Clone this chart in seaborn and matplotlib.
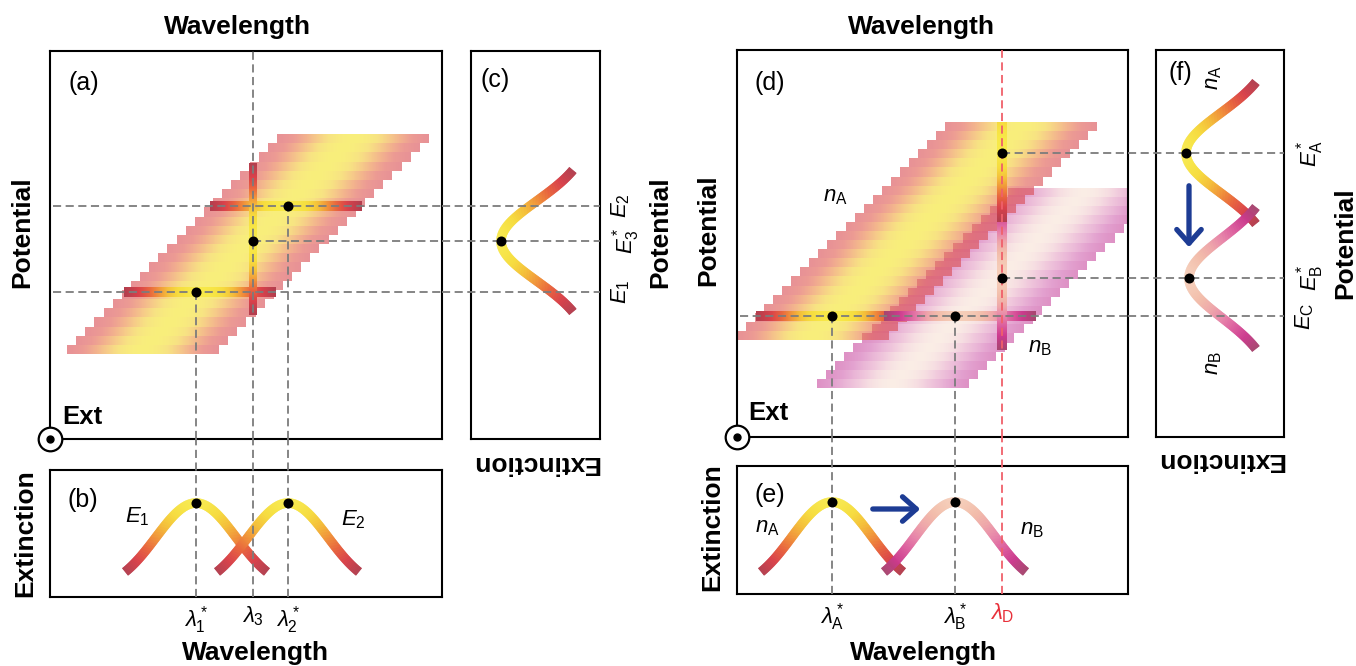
import numpy as np
import matplotlib
matplotlib.use('Agg')
import matplotlib.pyplot as plt
import seaborn as sns
from matplotlib.collections import LineCollection
from matplotlib.patches import FancyArrowPatch

sns.set_theme(style='white')
plt.rcParams['font.family'] = ['Liberation Sans', 'DejaVu Sans']
plt.rcParams['mathtext.fontset'] = 'custom'
plt.rcParams['mathtext.rm'] = 'Liberation Sans'
plt.rcParams['mathtext.it'] = 'Liberation Sans:italic'
plt.rcParams['mathtext.bf'] = 'Liberation Sans:bold'
plt.rcParams['text.color'] = 'black'
plt.rcParams['axes.labelcolor'] = 'black'
plt.rcParams['xtick.color'] = 'black'
plt.rcParams['ytick.color'] = 'black'

# -----------------------------
# Values (arbitrary units)
# -----------------------------

# (a)-(c): one species
band_a_pot = [85, 305]        # potential of lower / upper band edge
band_a_peak = [93, 303]       # peak wavelength of lowest / highest row
band_a_rows = 24

E_a = [147, 198, 233]         # E1, E3*, E2
E_a_labels = [r'$E_1$', r'$E_3^*$', r'$E_2$']
lam_a = [146, 203, 238]       # lambda1*, lambda3, lambda2*
lam_a_labels = [r'$\lambda_1^*$', r'$\lambda_3$', r'$\lambda_2^*$']

spec_b_ext = [94, 25]         # (b) extinction at peak / at curve ends
cut_c_ext = [99, 27]          # (c) extinction at vertex / at curve ends

# (d)-(f): two species A and B
band_A_pot = [97, 315]
band_A_peak = [76, 284]
band_A_rows = 24
band_B_pot = [49, 249]
band_B_peak = [156, 347]
band_B_rows = 22

E_d = [121, 159, 284]         # E_C, E_B*, E_A*
E_d_labels = [r'$E_\mathrm{C}$', r'$E_\mathrm{B}^*$', r'$E_\mathrm{A}^*$']
lam_d = [95, 218, 265]        # lambdaA*, lambdaB*, lambdaD
lam_d_labels = [r'$\lambda_\mathrm{A}^*$', r'$\lambda_\mathrm{B}^*$', r'$\lambda_\mathrm{D}$']

spec_e_ext = [92, 22]
cut_f_ext_A = [98, 28]
cut_f_ext_B = [95, 28]

arrow_e = [133, 186]          # wavelength shift arrow, at extinction 85
arrow_f = [254, 187]          # potential shift arrow, at extinction 95

BAND_HALF = 76
CURVE_HALF = 71
SIG = 40

warm = sns.blend_palette(['#B23E4E', '#D9414A', '#E8643E', '#F0923A',
                          '#F4BE3A', '#F6DC3E', '#F7E948'], as_cmap=True)
pink = sns.blend_palette(['#A6466E', '#CC3A8E', '#DC5E9E', '#E784AA',
                          '#EEA6AA', '#F2BCAA', '#F5CDB8'], as_cmap=True)
# versions used for the translucent bands
warm_band = sns.blend_palette(['#D84850', '#E0584C', '#EA7E42', '#F0A83A',
                               '#F3D030', '#F4E424'], as_cmap=True)
pink_band = sns.blend_palette(['#C8489E', '#D061AF', '#DC86BC', '#E6A3C5',
                               '#F0C6CE', '#F7E1D5'], as_cmap=True)

DASH = dict(color='#7c7c7c', lw=1.3, dashes=(4.5, 2.5), zorder=4)
RED_DASH = dict(color='#f0606a', lw=1.3, dashes=(4.5, 2.5), zorder=4)
BOLD = dict(fontsize=19, fontweight='bold', va='center', visible=True)
MATH = 16


def profile(d, half):
    ge = np.exp(-half ** 2 / (2 * SIG ** 2))
    return np.clip((np.exp(-d ** 2 / (2 * SIG ** 2)) - ge) / (1 - ge), 0, 1)


def band(ax, pot, peak, nrows, cmap, alpha, xmax):
    edges = np.linspace(pot[0], pot[1], nrows + 1)
    mid = (edges[:-1] + edges[1:]) / 2
    slope = (peak[1] - peak[0]) / (mid[-1] - mid[0])

    def peak_at(e):
        return peak[0] + (np.asarray(e) - mid[0]) * slope

    xe = np.arange(0, xmax + 1, 1.0)
    d = (xe[:-1] + 0.5)[None, :] - peak_at(mid)[:, None]
    C = np.ma.masked_where(np.abs(d) > BAND_HALF, profile(d, BAND_HALF))
    ax.pcolormesh(xe, edges, C, cmap=cmap, vmin=0, vmax=1, alpha=alpha,
                  shading='flat', antialiased=False, linewidth=0, zorder=1)
    return peak_at, edges[1] - edges[0]


def band_row(ax, e, peak_at, h, cmap, xmax):
    xe = np.arange(0, xmax + 1, 1.0)
    d = (xe[:-1] + 0.5) - peak_at(e)
    C = np.ma.masked_where(np.abs(d) > BAND_HALF, profile(d, BAND_HALF))
    ax.pcolormesh(xe, [e - h / 2, e + h / 2], C[None, :], cmap=cmap,
                  vmin=0, vmax=1, shading='flat', antialiased=False,
                  linewidth=0, zorder=2)


def band_cut(ax, lam, peak_at, pot, cmap, w):
    ye = np.arange(pot[0], pot[1] + 1, 1.0)
    d = lam - peak_at((ye[:-1] + ye[1:]) / 2)
    C = np.ma.masked_where(np.abs(d) > BAND_HALF, profile(d, BAND_HALF))
    ax.pcolormesh([lam - w / 2, lam + w / 2], ye, C[:, None], cmap=cmap,
                  vmin=0, vmax=1, shading='flat', antialiased=False,
                  linewidth=0, zorder=2)


def curve(ax, center, ext, cmap, vertical=False):
    d = np.linspace(-CURVE_HALF, CURVE_HALF, 400)
    t = profile(d, CURVE_HALF)
    val = ext[1] + (ext[0] - ext[1]) * t
    if vertical:
        pts = np.column_stack([val, center + d])
    else:
        pts = np.column_stack([center + d, val])
    segs = np.stack([pts[:-2], pts[2:]], axis=1)
    ax.add_collection(LineCollection(segs, colors=cmap(t[1:-1]),
                                     linewidths=6.8, capstyle='butt',
                                     zorder=3))


def dots(ax, x, y):
    sns.scatterplot(x=x, y=y, ax=ax, color='black', s=52, linewidth=0,
                    zorder=6, legend=False)


def origin_mark(ax):
    ax.plot([0], [0], marker='o', ms=17, mfc='white', mec='black', mew=1.6,
            clip_on=False, zorder=10)
    ax.plot([0], [0], marker='o', ms=5, color='black', clip_on=False,
            zorder=11)


def blue_arrow(ax, p0, p1):
    ax.add_patch(FancyArrowPatch(p0, p1, arrowstyle='->,head_length=0.45,head_width=0.4',
                                 mutation_scale=22, lw=3.8, color='#1d3c94',
                                 zorder=7))


# -----------------------------
# Layout
# -----------------------------

W, H = 1356, 666
fig = plt.figure(figsize=(W / 100, H / 100), dpi=100)


def box(l, t, w, h):
    return fig.add_axes([l / W, 1 - (t + h) / H, w / W, h / H])


ax_a = box(50, 51, 392, 388)
ax_b = box(50, 470, 392, 127)
ax_c = box(471, 51, 129, 388)
ax_d = box(737, 50, 391, 387)
ax_e = box(737, 466, 391, 128)
ax_f = box(1156, 50, 128, 387)

ax_a.set(xlim=(0, 392), ylim=(0, 388))
ax_b.set(xlim=(0, 392), ylim=(0, 127))
ax_c.set(xlim=(129, 0), ylim=(0, 388))
ax_d.set(xlim=(0, 391), ylim=(0, 387))
ax_e.set(xlim=(0, 391), ylim=(0, 128))
ax_f.set(xlim=(128, 0), ylim=(0, 387))

for ax in [ax_a, ax_b, ax_c, ax_d, ax_e, ax_f]:
    ax.set_xticks([])
    ax.set_yticks([])
    for s in ax.spines.values():
        s.set_color('black')
        s.set_linewidth(1.5)


def reach(ax, other, xy):
    # position of a corner of `other` in data units of `ax`
    return ax.transData.inverted().transform(other.transAxes.transform(xy))


b_top = reach(ax_b, ax_a, (0, 0))[1]
c_left = reach(ax_c, ax_a, (1, 0))[0]
e_top = reach(ax_e, ax_d, (0, 0))[1]
f_left = reach(ax_f, ax_d, (1, 0))[0]

# -----------------------------
# (a) potential-wavelength map
# -----------------------------

peak_a, row_h = band(ax_a, band_a_pot, band_a_peak, band_a_rows, warm_band, 0.6, 392)
band_row(ax_a, E_a[0], peak_a, row_h, warm, 392)
band_row(ax_a, E_a[2], peak_a, row_h, warm, 392)
band_cut(ax_a, lam_a[1], peak_a, band_a_pot, warm, 8)

ax_a.plot([3, 392], [E_a[0]] * 2, **DASH)
ax_a.plot([3, 392], [E_a[2]] * 2, **DASH)
ax_a.plot([lam_a[1], 392], [E_a[1]] * 2, **DASH)
ax_a.plot([lam_a[1]] * 2, [0, 388], **DASH)
ax_a.plot([lam_a[0]] * 2, [0, E_a[0]], **DASH)
ax_a.plot([lam_a[2]] * 2, [0, E_a[2]], **DASH)
dots(ax_a, [lam_a[0], lam_a[1], lam_a[2]], [E_a[0], E_a[1], E_a[2]])

ax_a.text(34, 356, '(a)', fontsize=18, ha='center', va='center')
ax_a.text(32, 22, 'Ext', fontsize=18.5, fontweight='bold', ha='center', va='center')
origin_mark(ax_a)

ax_a.xaxis.set_label_position('top')
ax_a.set_xlabel('Wavelength', **BOLD)
ax_a.xaxis.set_label_coords(0.477, 1.062)
ax_a.set_ylabel('Potential', **BOLD)
ax_a.yaxis.set_label_coords(-0.071, 0.534)

# -----------------------------
# (b) spectra at E1 and E2
# -----------------------------

curve(ax_b, lam_a[0], spec_b_ext, warm)
curve(ax_b, lam_a[2], spec_b_ext, warm)
for lam in lam_a:
    ax_b.plot([lam] * 2, [0, b_top], clip_on=False, **DASH)
dots(ax_b, [lam_a[0], lam_a[2]], [spec_b_ext[0]] * 2)

ax_b.text(33, 97, '(b)', fontsize=18, ha='center', va='center')
ax_b.text(87, 80, r'$E_1$', fontsize=MATH, ha='center', va='center')
ax_b.text(303, 77, r'$E_2$', fontsize=MATH, ha='center', va='center')

ax_b.set_xticks(lam_a, labels=lam_a_labels, fontsize=MATH)
ax_b.tick_params(axis='x', length=0, pad=5)
ax_b.set_xlabel('Wavelength', **BOLD)
ax_b.xaxis.set_label_coords(0.523, -0.44)
ax_b.set_ylabel('Extinction', **BOLD)
ax_b.yaxis.set_label_coords(-0.064, 0.5)

# -----------------------------
# (c) extinction vs potential at lambda3
# -----------------------------

curve(ax_c, E_a[1], cut_c_ext, warm, vertical=True)
for e in E_a:
    ax_c.plot([c_left, 0], [e] * 2, clip_on=False, **DASH)
dots(ax_c, [cut_c_ext[0]], [E_a[1]])

ax_c.text(105, 359, '(c)', fontsize=18, ha='center', va='center')
ax_c.yaxis.tick_right()
ax_c.set_yticks(E_a, labels=E_a_labels, fontsize=MATH, rotation=90, va='center')
ax_c.tick_params(axis='y', length=0, pad=7)
ax_c.yaxis.set_label_position('right')
ax_c.set_ylabel('Potential', **BOLD)
ax_c.yaxis.set_label_coords(1.465, 0.534)
ax_c.set_xlabel('Extinction', rotation=180, ha='center', **BOLD)
ax_c.xaxis.set_label_coords(0.496, -0.062)

# -----------------------------
# (d) two overlapping species
# -----------------------------

peak_B, row_hB = band(ax_d, band_B_pot, band_B_peak, band_B_rows, pink_band, 0.6, 430)
peak_A, row_hA = band(ax_d, band_A_pot, band_A_peak, band_A_rows, warm_band, 0.6, 430)
band_row(ax_d, E_d[0], peak_A, row_hA, warm, 430)
band_row(ax_d, E_d[0], peak_B, row_hB, pink, 430)
band_cut(ax_d, lam_d[2], peak_B, band_B_pot, pink, 10)
band_cut(ax_d, lam_d[2], peak_A, band_A_pot, warm, 10)

ax_d.plot([3, 391], [E_d[0]] * 2, **DASH)
ax_d.plot([lam_d[2], 391], [E_d[1]] * 2, **DASH)
ax_d.plot([lam_d[2], 391], [E_d[2]] * 2, **DASH)
ax_d.plot([lam_d[0]] * 2, [0, E_d[0]], **DASH)
ax_d.plot([lam_d[1]] * 2, [0, E_d[0]], **DASH)
ax_d.plot([lam_d[2]] * 2, [0, 387], **RED_DASH)
dots(ax_d, [lam_d[0], lam_d[1], lam_d[2], lam_d[2]],
     [E_d[0], E_d[0], E_d[1], E_d[2]])

ax_d.text(33, 354, '(d)', fontsize=18, ha='center', va='center')
ax_d.text(31, 24, 'Ext', fontsize=18.5, fontweight='bold', ha='center', va='center')
ax_d.text(98, 240, r'$n_\mathrm{A}$', fontsize=MATH, ha='center', va='center')
ax_d.text(303, 89, r'$n_\mathrm{B}$', fontsize=MATH, ha='center', va='center')
origin_mark(ax_d)

ax_d.xaxis.set_label_position('top')
ax_d.set_xlabel('Wavelength', **BOLD)
ax_d.xaxis.set_label_coords(0.473, 1.059)
ax_d.set_ylabel('Potential', **BOLD)
ax_d.yaxis.set_label_coords(-0.074, 0.535)

# -----------------------------
# (e) spectra of A and B at E_C
# -----------------------------

curve(ax_e, lam_d[0], spec_e_ext, warm)
curve(ax_e, lam_d[1], spec_e_ext, pink)
ax_e.plot([lam_d[0]] * 2, [0, e_top], clip_on=False, **DASH)
ax_e.plot([lam_d[1]] * 2, [0, e_top], clip_on=False, **DASH)
ax_e.plot([lam_d[2]] * 2, [0, e_top], clip_on=False, **RED_DASH)
dots(ax_e, [lam_d[0], lam_d[1]], [spec_e_ext[0]] * 2)
blue_arrow(ax_e, (arrow_e[0], 85), (arrow_e[1], 85))

ax_e.text(33, 99, '(e)', fontsize=18, ha='center', va='center')
ax_e.text(30, 66, r'$n_\mathrm{A}$', fontsize=MATH, ha='center', va='center')
ax_e.text(295, 64, r'$n_\mathrm{B}$', fontsize=MATH, ha='center', va='center')

ax_e.set_xticks(lam_d, labels=lam_d_labels, fontsize=MATH)
ax_e.get_xticklabels()[2].set_color('#e8303a')
ax_e.tick_params(axis='x', length=0, pad=5)
ax_e.set_xlabel('Wavelength', **BOLD)
ax_e.xaxis.set_label_coords(0.476, -0.46)
ax_e.set_ylabel('Extinction', **BOLD)
ax_e.yaxis.set_label_coords(-0.064, 0.52)

# -----------------------------
# (f) extinction vs potential at lambda_D
# -----------------------------

curve(ax_f, E_d[2], cut_f_ext_A, warm, vertical=True)
curve(ax_f, E_d[1], cut_f_ext_B, pink, vertical=True)
for e in E_d:
    ax_f.plot([f_left, 0], [e] * 2, clip_on=False, **DASH)
dots(ax_f, [cut_f_ext_A[0], cut_f_ext_B[0]], [E_d[2], E_d[1]])
blue_arrow(ax_f, (95, arrow_f[0]), (95, arrow_f[1]))

ax_f.text(104, 364, '(f)', fontsize=18, ha='center', va='center')
ax_f.text(71, 359, r'$n_\mathrm{A}$', fontsize=MATH, rotation=90, ha='center', va='center')
ax_f.text(70, 74, r'$n_\mathrm{B}$', fontsize=MATH, rotation=90, ha='center', va='center')

ax_f.yaxis.tick_right()
ax_f.set_yticks(E_d, labels=E_d_labels, fontsize=MATH, rotation=90, va='center')
ax_f.tick_params(axis='y', length=0, pad=7)
ax_f.yaxis.set_label_position('right')
ax_f.set_ylabel('Potential', **BOLD)
ax_f.yaxis.set_label_coords(1.477, 0.5)
ax_f.set_xlabel('Extinction', rotation=180, ha='center', **BOLD)
ax_f.xaxis.set_label_coords(0.5, -0.059)

fig.savefig('out.png', dpi=100)
